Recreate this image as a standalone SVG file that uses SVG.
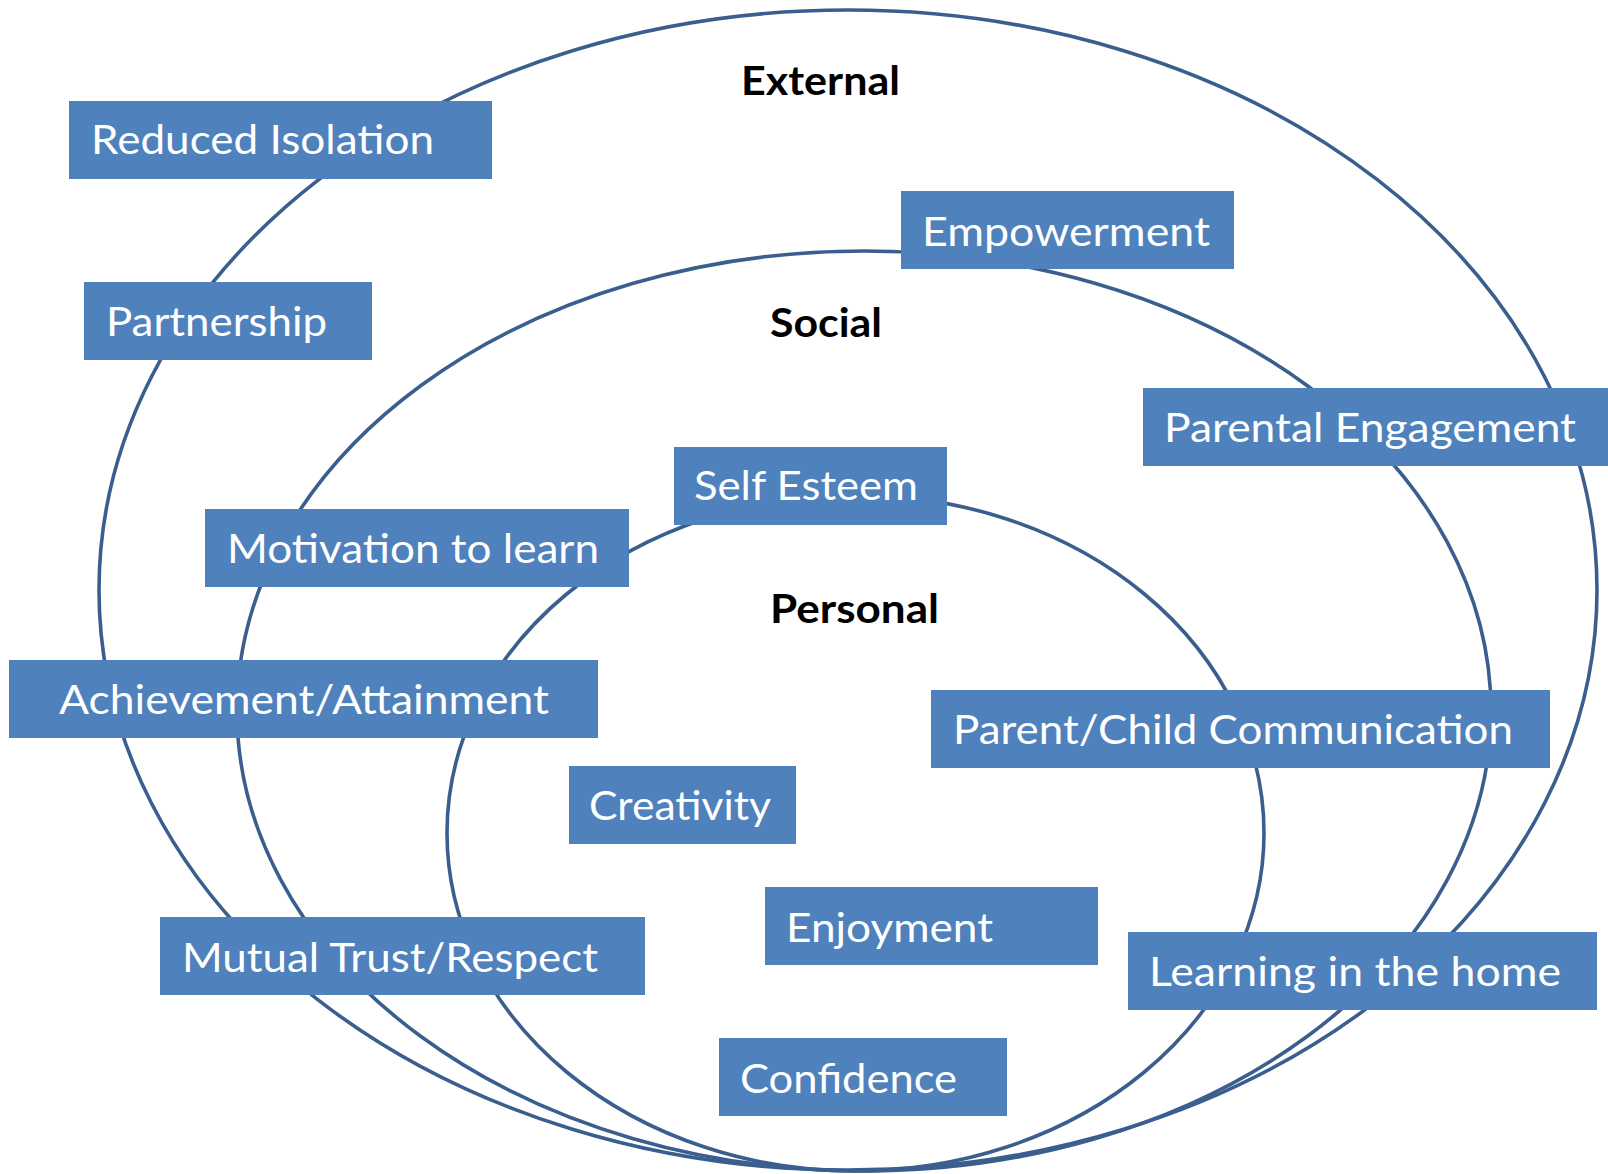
<svg xmlns="http://www.w3.org/2000/svg" width="1608" height="1174" viewBox="0 0 1608 1174">
<style>
.ring{fill:none;stroke:#3A5F8F;stroke-width:3.6}
.box{fill:#4F81BD}
.t{font-family:Lato,"Open Sans","Liberation Sans",sans-serif;font-size:41px;fill:#FFFFFF}
.h{font-family:Lato,"Open Sans","Liberation Sans",sans-serif;font-size:40px;font-weight:bold;fill:#000000}
</style>
<rect width="1608" height="1174" fill="#FFFFFF"/>
<g id="connectors">
<ellipse class="ring" cx="848" cy="590" rx="749" ry="580"/>
<ellipse class="ring" cx="864" cy="711" rx="627" ry="460"/>
<ellipse class="ring" cx="855.5" cy="833" rx="408.5" ry="338"/>
</g>
<g id="label-external"><text class="h" x="741" y="95" textLength="159" lengthAdjust="spacingAndGlyphs">External</text></g>
<g id="label-social"><text class="h" x="770" y="337" textLength="112" lengthAdjust="spacingAndGlyphs">Social</text></g>
<g id="label-personal"><text class="h" x="770" y="623" textLength="169" lengthAdjust="spacingAndGlyphs">Personal</text></g>
<g id="n-reduced-isolation"><rect class="box" x="69" y="101" width="423" height="78"/><text class="t" x="91" y="154" textLength="343" lengthAdjust="spacingAndGlyphs">Reduced Isolation</text></g>
<g id="n-partnership"><rect class="box" x="84" y="282" width="288" height="78"/><text class="t" x="106" y="336" textLength="221" lengthAdjust="spacingAndGlyphs">Partnership</text></g>
<g id="n-empowerment"><rect class="box" x="901" y="191" width="333" height="78"/><text class="t" x="922" y="246" textLength="288" lengthAdjust="spacingAndGlyphs">Empowerment</text></g>
<g id="n-parental-engagement"><rect class="box" x="1143" y="388" width="465" height="78"/><text class="t" x="1164" y="442" textLength="412" lengthAdjust="spacingAndGlyphs">Parental Engagement</text></g>
<g id="n-self-esteem"><rect class="box" x="674" y="447" width="273" height="78"/><text class="t" x="694" y="500" textLength="224" lengthAdjust="spacingAndGlyphs">Self Esteem</text></g>
<g id="n-motivation"><rect class="box" x="205" y="509" width="424" height="78"/><text class="t" x="227" y="563" textLength="372" lengthAdjust="spacingAndGlyphs">Motivation to learn</text></g>
<g id="n-achievement"><rect class="box" x="9" y="660" width="589" height="78"/><text class="t" x="59" y="714" textLength="490" lengthAdjust="spacingAndGlyphs">Achievement/Attainment</text></g>
<g id="n-parent-child"><rect class="box" x="931" y="690" width="619" height="78"/><text class="t" x="953" y="744" textLength="560" lengthAdjust="spacingAndGlyphs">Parent/Child Communication</text></g>
<g id="n-creativity"><rect class="box" x="569" y="766" width="227" height="78"/><text class="t" x="589" y="820" textLength="182" lengthAdjust="spacingAndGlyphs">Creativity</text></g>
<g id="n-enjoyment"><rect class="box" x="765" y="887" width="333" height="78"/><text class="t" x="786" y="942" textLength="207" lengthAdjust="spacingAndGlyphs">Enjoyment</text></g>
<g id="n-mutual-trust"><rect class="box" x="160" y="917" width="485" height="78"/><text class="t" x="182" y="972" textLength="416" lengthAdjust="spacingAndGlyphs">Mutual Trust/Respect</text></g>
<g id="n-confidence"><rect class="box" x="719" y="1038" width="288" height="78"/><text class="t" x="740" y="1093" textLength="217" lengthAdjust="spacingAndGlyphs">Confidence</text></g>
<g id="n-learning-home"><rect class="box" x="1128" y="932" width="469" height="78"/><text class="t" x="1149" y="986" textLength="412" lengthAdjust="spacingAndGlyphs">Learning in the home</text></g>
</svg>
